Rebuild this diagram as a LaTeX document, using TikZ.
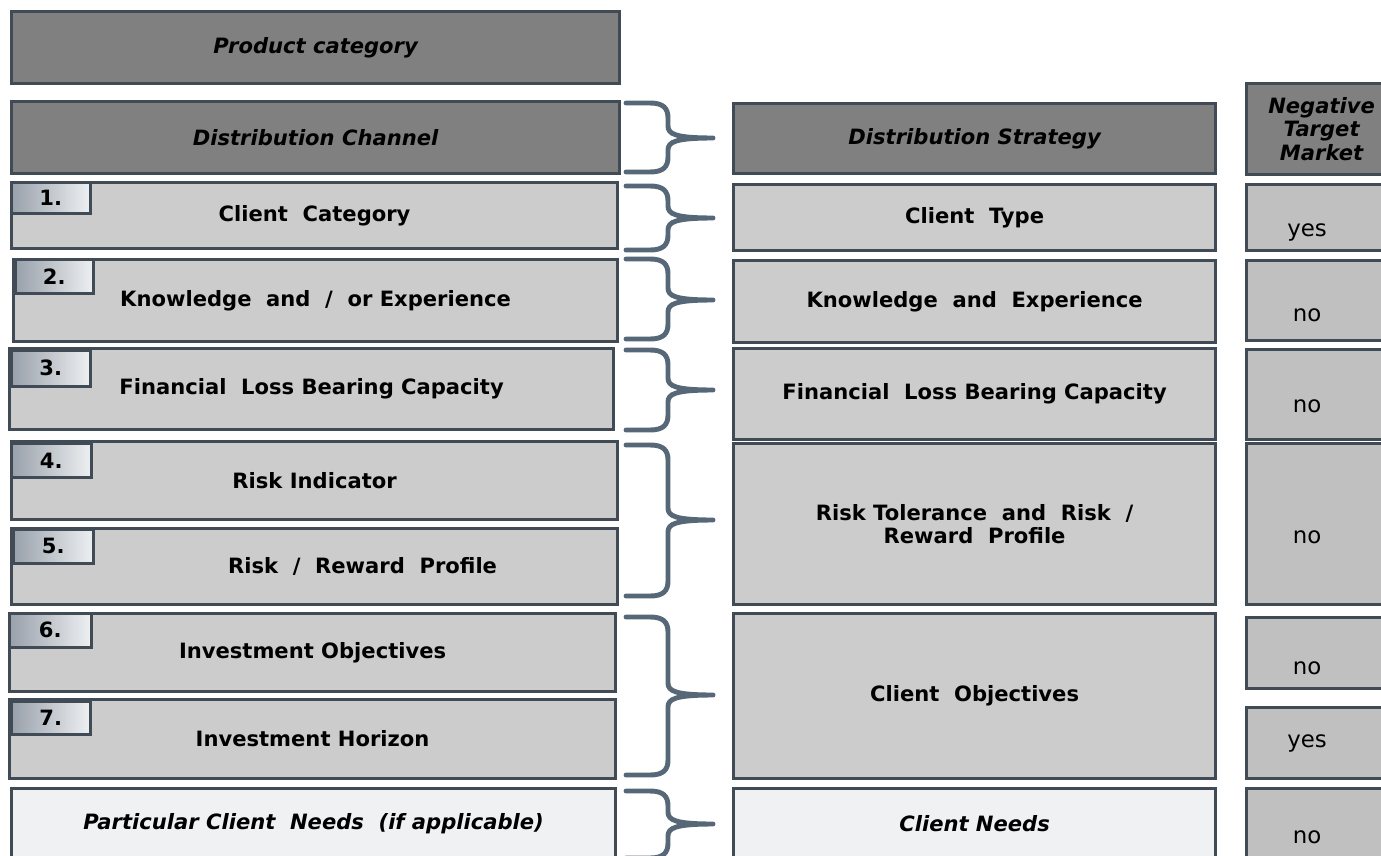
\documentclass[tikz,border=0pt]{standalone}
\usepackage{fontspec}
\setmainfont{DejaVu Sans}
\newcommand{\lbl}{\fontsize{12}{13.5}\selectfont}
% box from its corners (pixel grid), name, style, text
\newcommand{\cellbox}[7]{\node[#2, minimum width={(#5-#3)*0.02cm}, minimum height={(#6-#4)*0.02cm}] (#1) at (#3,#4) {#7};}
% curly bracket: top, tip, bottom
\newcommand{\grp}[3]{\draw[brace] (626,#1) -- (650,#1) .. controls (663,#1) and (668,#1+5) .. (668,#1+15)
    -- (668,#2-12) .. controls (668,#2-4) and (675,#2) .. (713,#2)
    .. controls (675,#2) and (668,#2+4) .. (668,#2+12)
    -- (668,#3-15) .. controls (668,#3-5) and (663,#3) .. (650,#3) -- (626,#3);}
\begin{document}
\begin{tikzpicture}[x=0.02cm, y=-0.02cm]
  % ----------- colours -----------
  \definecolor{edge}{HTML}{414B56}
  \definecolor{darkfill}{HTML}{808080}
  \definecolor{lightfill}{HTML}{CCCCCC}
  \definecolor{ansfill}{HTML}{C0C0C0}
  \definecolor{palefill}{HTML}{F0F1F3}
  \definecolor{bracecol}{HTML}{566778}
  \definecolor{tabdark}{HTML}{98A0AA}
  \definecolor{tablight}{HTML}{EEF0F2}
  \tikzset{
    cell/.style={draw=edge, line width=1.8pt, anchor=north west, inner sep=0pt, align=center},
    head/.style={cell, fill=darkfill, font=\lbl\bfseries\itshape},
    item/.style={cell, fill=lightfill, font=\lbl\bfseries},
    pale/.style={cell, fill=palefill, font=\lbl\bfseries\itshape},
    ans/.style={cell, fill=ansfill},
    tab/.style={cell, line width=1.5pt, left color=tabdark, right color=tablight, font=\lbl\bfseries},
    word/.style={font=\fontsize{13}{15}\selectfont},
    brace/.style={draw=bracecol, line width=2.8pt, line cap=round, line join=round}
  }
  \useasboundingbox (0,0) rectangle (1381,855);

  % =====================================
  %        left column: product side
  % =====================================
  \cellbox{prod}{head}{10}{10}{618}{82}{Product category}
  \cellbox{chan}{head}{10}{100}{618}{172}{Distribution Channel}
  \cellbox{c1}{item}{10}{181}{616}{247}{Client\ \ Category}
  \cellbox{c2}{item}{12}{258}{616}{340}{Knowledge\ \ and\ \ /\ \ or Experience}
  \cellbox{c3}{item}{8}{347}{612}{428}{Financial\ \ Loss Bearing Capacity}
  \cellbox{c4}{item}{10}{440}{616}{518}{Risk Indicator}
  \cellbox{c5}{item}{10}{527}{616}{603}{\hspace*{1.92cm}Risk\ \ /\ \ Reward\ \ Profile}
  \cellbox{c6}{item}{8}{612}{614}{690}{Investment Objectives}
  \cellbox{c7}{item}{8}{698}{614}{777}{Investment Horizon}
  \cellbox{need}{pale}{10}{787}{614}{858}{Particular Client\ \ Needs\ \ (if applicable)}

  % number tabs
  \cellbox{t1}{tab}{10}{181}{89}{212}{1.}
  \cellbox{t2}{tab}{14}{258}{92}{292}{2.}
  \cellbox{t3}{tab}{10}{349}{89}{385}{3.}
  \cellbox{t4}{tab}{10}{442}{90}{476}{4.}
  \cellbox{t5}{tab}{12}{528}{92}{562}{5.}
  \cellbox{t6}{tab}{8}{612}{90}{646}{6.}
  \cellbox{t7}{tab}{10}{700}{89}{733}{7.}

  % brackets
  \grp{103}{138}{172}
  \grp{186}{218}{250}
  \grp{259}{300}{339}
  \grp{350}{390}{430}
  \grp{445}{520}{596}
  \grp{617}{695}{775}
  \grp{791}{824}{858}

  % =====================================
  %        middle column: strategy
  % =====================================
  \cellbox{strat}{head}{732}{102}{1214}{172}{Distribution Strategy}
  \cellbox{m1}{item}{732}{183}{1214}{249}{Client\ \ Type}
  \cellbox{m2}{item}{732}{259}{1214}{341}{Knowledge\ \ and\ \ Experience}
  \cellbox{m3}{item}{732}{347}{1214}{438}{Financial\ \ Loss Bearing Capacity}
  \cellbox{m4}{item}{732}{442}{1214}{603}{Risk Tolerance\ \ and\ \ Risk\ \ /\\Reward\ \ Profile}
  \cellbox{m5}{item}{732}{612}{1214}{777}{Client\ \ Objectives}
  \cellbox{m6}{pale}{732}{787}{1214}{858}{Client Needs}

  % =====================================
  %        right column: negative target market
  % =====================================
  \cellbox{ntm}{head}{1245}{82}{1395}{173}{Negative\\Target\\Market}
  \cellbox{r1}{ans}{1245}{183}{1395}{249}{}
  \cellbox{r2}{ans}{1245}{259}{1395}{339}{}
  \cellbox{r3}{ans}{1245}{348}{1395}{438}{}
  \cellbox{r4}{ans}{1245}{442}{1395}{603}{}
  \cellbox{r5}{ans}{1245}{616}{1395}{687}{}
  \cellbox{r6}{ans}{1245}{706}{1395}{777}{}
  \cellbox{r7}{ans}{1245}{787}{1395}{858}{}
  \node[word] (a1) at (1307,232) {yes};
  \node[word] (a2) at (1307,315) {no};
  \node[word] (a3) at (1307,406) {no};
  \node[word] (a4) at (1307,537) {no};
  \node[word] (a5) at (1307,668) {no};
  \node[word] (a6) at (1307,743) {yes};
  \node[word] (a7) at (1307,837) {no};
\end{tikzpicture}
\end{document}
